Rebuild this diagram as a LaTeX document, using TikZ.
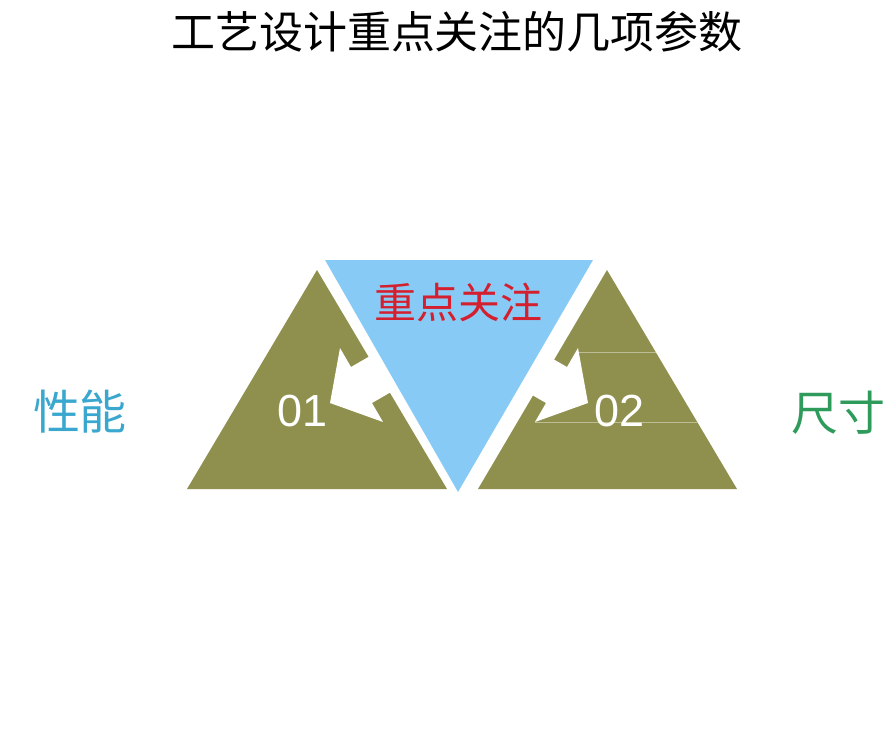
\documentclass[tikz,border=0pt]{standalone}
\usepackage{fontspec}
\setmainfont{Liberation Sans}
\newfontfamily\cjk{Noto Sans CJK SC}
\usetikzlibrary{calc}
\definecolor{pyramidgreen}{RGB}{143,144,78}
\definecolor{focusblue}{RGB}{136,202,246}
\definecolor{focusred}{RGB}{212,32,46}
\definecolor{perfblue}{RGB}{58,167,207}
\definecolor{sizegreen}{RGB}{46,155,90}

\begin{document}
\begin{tikzpicture}[x=1pt,y=-1pt,
    pyramid/.style={fill=pyramidgreen},
    pointer/.style={fill=white},
    seam/.style={draw=pyramidgreen!60!white,line width=0.6pt},
    cjklabel/.style={font=\cjk\fontsize{#1}{#1}\selectfont},
    numlabel/.style={text=white,font=\fontsize{45}{45}\selectfont}]
    \useasboundingbox (0,0) rectangle (895,750);
    \coordinate (L1) at (317,270);
    \coordinate (L2) at (187,489);
    \coordinate (L3) at (447,489);
    \coordinate (R1) at (607,270);
    \coordinate (R2) at (478,489);
    \coordinate (R3) at (737,489);
    \coordinate (F1) at (325,260);
    \coordinate (F2) at (593,260);
    \coordinate (F3) at (458,492);

    \fill[pyramid] (L1) -- (L2) -- (L3) -- cycle;
    \fill[pyramid] (R1) -- (R2) -- (R3) -- cycle;

    % faint seams in the right pyramid
    \draw[seam] (578,352) -- (656,352);
    \draw[seam] (535,422) -- (698,422);

    % pointers, tails run under the blue triangle
    \fill[pointer] (330,403) -- (340,348) -- (351,367) -- (403,337)
        -- (424,373) -- (372,403) -- (383,422) -- cycle;
    \fill[pointer] (588,403) -- (578,348) -- (567,367) -- (515,337)
        -- (494,373) -- (546,403) -- (535,422) -- cycle;

    \fill[focusblue] (F1) -- (F2) -- (F3) -- cycle;

    \node[cjklabel=44] (title) at (457,32) {工艺设计重点关注的几项参数};
    \node[cjklabel=42,text=focusred] (focus) at (458,302) {重点关注};
    \node[numlabel] (n1) at (303,411) {01};
    \node[numlabel] (n2) at (620,411) {02};
    \node[cjklabel=47,text=perfblue] (perf) at (80,412) {性能};
    \node[cjklabel=47,text=sizegreen] (size) at (838,413) {尺寸};
\end{tikzpicture}
\end{document}
